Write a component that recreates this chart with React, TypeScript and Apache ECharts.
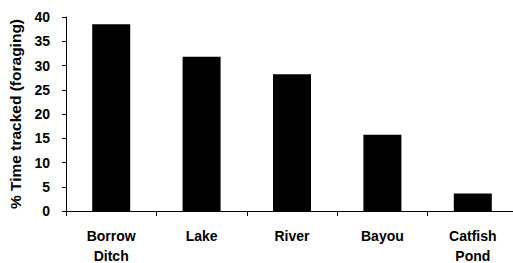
import React, { useEffect, useRef } from "react";
import * as echarts from "echarts";

const categories = ["Borrow\nDitch", "Lake", "River", "Bayou", "Catfish\nPond"];
const values = [38.5, 31.8, 28.2, 15.7, 3.6];
const yTicks = { min: 0, max: 40, interval: 5 };

export default function App() {
  const ref = useRef<HTMLDivElement>(null);
  useEffect(() => {
    document.body.style.margin = "0";
    const chart = echarts.init(ref.current!, undefined, { renderer: "svg" });
    const font = "'Liberation Sans', Arial, sans-serif";
    chart.setOption({
      animation: false,
      backgroundColor: "#ffffff",
      grid: {
        left: 66,
        top: 17,
        bottom: 52,
        right: -5,
        containLabel: false,
        outerBoundsMode: "none",
      },
      xAxis: {
        type: "category",
        data: categories,
        boundaryGap: true,
        axisLine: { show: true, lineStyle: { color: "#000", width: 1 } },
        axisTick: { show: true, length: 5, lineStyle: { color: "#000" } },
        axisLabel: {
          color: "#000",
          fontFamily: font,
          fontWeight: "bold",
          fontSize: 14,
          lineHeight: 20,
          margin: 15,
          interval: 0,
        },
      },
      yAxis: {
        type: "value",
        min: yTicks.min,
        max: yTicks.max,
        interval: yTicks.interval,
        name: "% Time tracked (foraging)",
        nameLocation: "middle",
        nameGap: 42,
        nameTextStyle: {
          color: "#000",
          fontFamily: font,
          fontWeight: "bold",
          fontSize: 15.5,
        },
        splitLine: { show: false },
        axisLine: { show: true, lineStyle: { color: "#000", width: 1 } },
        axisTick: { show: true, length: 4, lineStyle: { color: "#000" } },
        axisLabel: {
          color: "#000",
          fontFamily: font,
          fontWeight: "bold",
          fontSize: 14,
          margin: 16,
        },
      },
      series: [
        {
          type: "bar",
          data: values,
          barWidth: 38,
          itemStyle: { color: "#000" },
        },
      ],
    });
    return () => chart.dispose();
  }, []);
  return (
    <div
      ref={ref}
      style={{ position: "absolute", left: 0, top: 0, width: 513, height: 263 }}
    />
  );
}
